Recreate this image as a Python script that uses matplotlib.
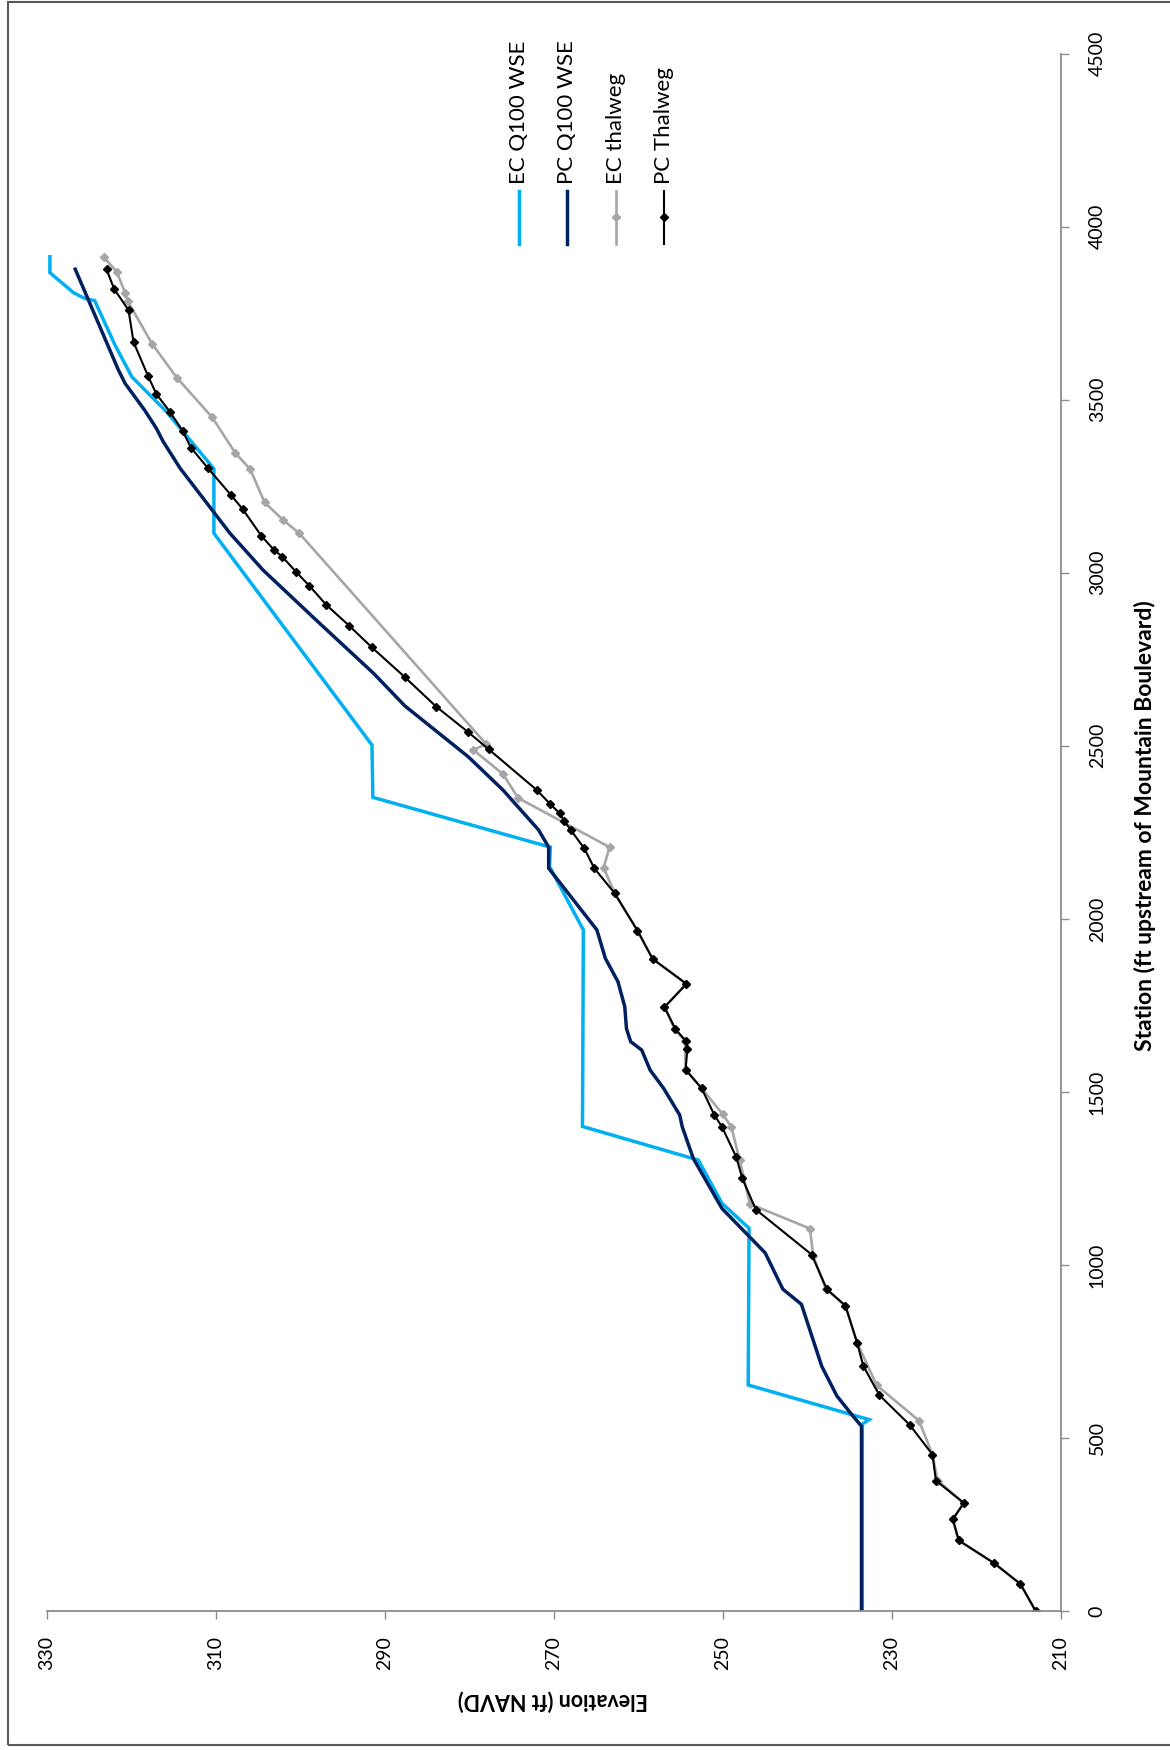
import matplotlib
matplotlib.use("Agg")
import matplotlib.pyplot as plt
from matplotlib.lines import Line2D
from matplotlib.patches import Rectangle

plt.rcParams['font.family'] = ['Lato', 'DejaVu Sans']

# series data: station (ft) and elevation (ft NAVD)
ec_wse_sta = [0, 540, 553, 653, 1106, 1178, 1303, 1400, 1968, 2151, 2207, 2351, 2502,
              3114, 3300, 3321, 3465, 3566, 3658, 3786, 3793, 3809, 3867, 3913]
ec_wse_elev = [233.5, 233.5, 232.7, 247.0, 246.9, 250.1, 252.9, 266.6, 266.5, 270.5, 270.4, 291.4, 291.5,
               310.2, 310.2, 310.9, 315.8, 319.9, 321.9, 324.3, 325.5, 326.8, 329.6, 329.6]

pc_wse_sta = [0, 534, 563, 621, 707, 886, 930, 1035, 1163, 1308, 1399, 1433, 1510, 1563, 1621,
              1645, 1683, 1746, 1818, 1886, 1968, 2146, 2207, 2257, 2372, 2468, 2615, 2709, 2854,
              2916, 3008, 3114, 3302, 3379, 3417, 3470, 3547, 3586, 3877]
pc_wse_elev = [233.6, 233.6, 234.6, 236.5, 238.3, 240.7, 242.9, 245.0, 250.1, 253.5, 254.8, 255.1, 257.0, 258.6, 259.6,
               260.9, 261.4, 261.6, 262.4, 263.9, 264.9, 270.6, 270.6, 271.8, 276.0, 280.1, 287.6, 291.3, 297.7,
               300.4, 304.4, 308.3, 314.2, 316.2, 317.0, 318.4, 320.7, 321.5, 326.6]

ec_thal_sta = [0, 78, 138, 204, 265, 312, 377, 452, 550, 652, 774, 882, 930, 1025, 1105, 1176,
               1303, 1399, 1435, 1510, 1564, 1648, 1681, 1745, 1812, 1884, 1966, 2074, 2148, 2207,
               2349, 2418, 2488, 2505, 3114, 3152, 3203, 3299, 3347, 3449, 3564, 3661, 3785, 3809,
               3870, 3911]
ec_thal_elev = [213.0, 214.8, 217.9, 222.1, 222.8, 221.5, 224.6, 225.2, 226.8, 231.8, 234.1, 235.5, 237.8, 239.3, 239.7, 246.8,
                248.0, 249.0, 250.0, 252.5, 254.4, 254.5, 255.7, 256.9, 254.3, 258.3, 260.1, 262.8, 264.1, 263.4,
                274.2, 276.0, 279.5, 278.0, 300.1, 302.0, 304.2, 305.9, 307.7, 310.4, 314.6, 317.5, 320.4, 320.7,
                321.7, 323.2]

pc_thal_sta = [0, 78, 138, 204, 265, 312, 377, 452, 538, 624, 709, 774, 882, 930, 1030, 1160,
               1250, 1311, 1399, 1433, 1510, 1564, 1624, 1648, 1681, 1745, 1812, 1884, 1966, 2074,
               2146, 2204, 2257, 2284, 2305, 2331, 2372, 2490, 2541, 2613, 2698, 2784, 2847, 2907,
               2962, 3003, 3046, 3066, 3107, 3184, 3225, 3302, 3361, 3410, 3465, 3516, 3569, 3666,
               3759, 3820, 3877]
pc_thal_elev = [213.0, 214.8, 217.9, 222.1, 222.8, 221.5, 224.8, 225.2, 227.9, 231.5, 233.4, 234.1, 235.5, 237.7, 239.5, 246.1,
                247.7, 248.4, 250.1, 251.0, 252.5, 254.4, 254.2, 254.4, 255.6, 256.9, 254.3, 258.3, 260.1, 262.8,
                265.2, 266.4, 268.0, 268.8, 269.3, 270.4, 272.0, 277.7, 280.2, 283.9, 287.6, 291.5, 294.2, 296.9,
                298.9, 300.5, 302.1, 303.1, 304.6, 306.8, 308.2, 310.9, 312.9, 313.9, 315.4, 317.0, 318.0, 319.7,
                320.3, 322.0, 322.9]

series_names = ['EC Q100 WSE', 'PC Q100 WSE', 'EC thalweg', 'PC Thalweg']
elev_ticks = [210, 230, 250, 270, 290, 310, 330]
station_ticks = [0, 500, 1000, 1500, 2000, 2500, 3000, 3500, 4000, 4500]

W, H = 1170, 1750
fig = plt.figure(figsize=(W / 100, H / 100), dpi=100)

# axes box (pixels): x 46.5..1061, y 53.6..1611
ax = fig.add_axes([46.5 / W, 1 - 1611 / H, (1061 - 46.5) / W, (1611 - 53.6) / H])

# the chart is drawn turned a quarter turn: station runs up, elevation runs right-to-left
ax.plot(ec_wse_elev, ec_wse_sta, color='#00B0F0', lw=2.5, solid_joinstyle='miter')
ax.plot(pc_wse_elev, pc_wse_sta, color='#002060', lw=2.5, solid_joinstyle='miter')
ax.plot(ec_thal_elev, ec_thal_sta, color='#A6A6A6', lw=1.9, marker='D', ms=4.0)
ax.plot(pc_thal_elev, pc_thal_sta, color='black', lw=1.5, marker='D', ms=4.3)

ax.set_xlim(330, 210)
ax.set_ylim(0, 4500)
ax.set_xticks(elev_ticks)
ax.set_yticks(station_ticks)
ax.yaxis.tick_right()

for side in ['top', 'left']:
    ax.spines[side].set_visible(False)
for side in ['bottom', 'right']:
    ax.spines[side].set_color('#8C8C8C')
    ax.spines[side].set_linewidth(1.3)

ax.tick_params(axis='x', direction='out', length=6, width=1, color='#8C8C8C',
               labelrotation=90, labelsize=14, pad=12)
ax.tick_params(axis='y', direction='out', length=6, width=1, color='#8C8C8C',
               labelrotation=90, labelsize=14, pad=14)
for lab in ax.get_yticklabels():
    lab.set_verticalalignment('center')

fig.text(1145 / W, 1 - 826 / H, 'Station (ft upstream of Mountain Boulevard)',
         rotation=90, ha='center', va='center', fontsize=16.5, fontweight='bold')
fig.text(553 / W, 1 - 1700 / H, 'Elevation (ft NAVD)',
         rotation=180, ha='center', va='center', fontsize=15.5, fontweight='bold')

# legend, turned like the rest of the chart
leg_x = [519, 567, 616, 664]
leg_style = [dict(color='#00B0F0', lw=2.5), dict(color='#002060', lw=2.5),
             dict(color='#A6A6A6', lw=1.9), dict(color='black', lw=1.5)]
for i, name in enumerate(series_names):
    x = leg_x[i] / W
    fig.add_artist(Line2D([x, x], [1 - 191 / H, 1 - 244 / H], transform=fig.transFigure,
                          **leg_style[i]))
    if i >= 2:
        fig.add_artist(Line2D([x], [1 - 217 / H], transform=fig.transFigure, marker='D',
                              ms=4.3, color=leg_style[i]['color'], lw=0))
    fig.text(x, 1 - 184 / H, name, rotation=90, ha='center', va='bottom', fontsize=16)

# chart frame
fig.add_artist(Rectangle((8 / W, 1 - 1745 / H), 1.2, (1745 - 2) / H, transform=fig.transFigure,
                         fill=False, edgecolor='#595959', lw=1.5))

fig.savefig('out.png', dpi=100)
